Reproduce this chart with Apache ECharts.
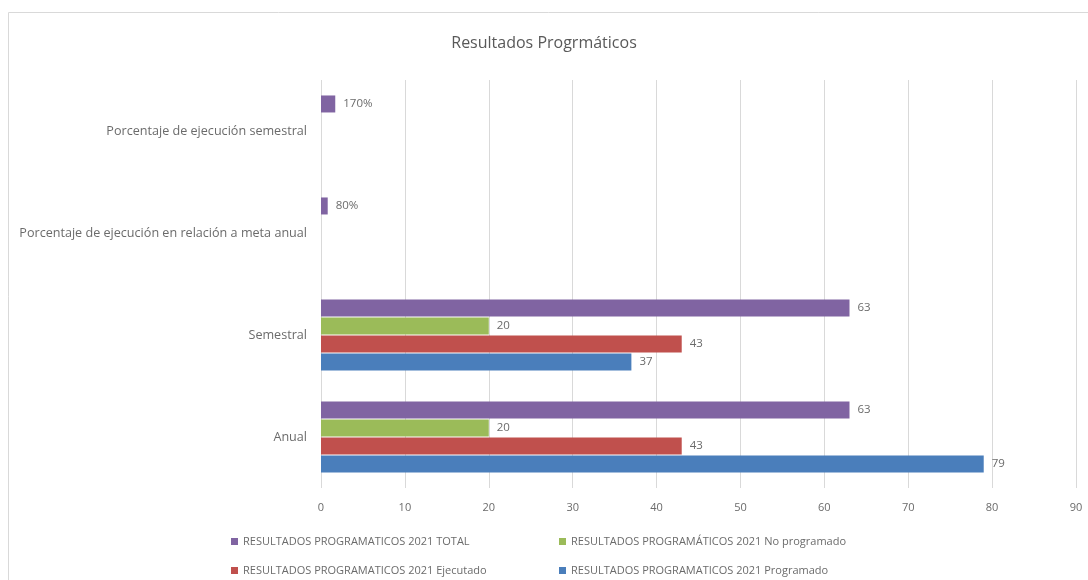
<!DOCTYPE html>
<html><head><meta charset="utf-8">
<script src="https://cdn.jsdelivr.net/npm/echarts@6/dist/echarts.min.js"></script>
<style>html,body{margin:0;padding:0;background:#fff}#c{width:1088px;height:580px}</style>
</head><body><div id="c"></div>
<script>
const categories = ['Anual', 'Semestral', 'Porcentaje de ejecución en relación a meta anual', 'Porcentaje de ejecución semestral'];
const seriesNames = ['RESULTADOS PROGRAMATICOS 2021 TOTAL', 'RESULTADOS PROGRAMÁTICOS 2021 No programado', 'RESULTADOS PROGRAMATICOS 2021 Ejecutado', 'RESULTADOS PROGRAMATICOS 2021 Programado'];
const total = [63, 63, 0.8, 1.7];
const noProgramado = [20, 20, null, null];
const ejecutado = [43, 43, null, null];
const programado = [79, 37, null, null];
const colors = ['#8064a2', '#9bbb59', '#c0504d', '#4a7ebb'];
const xTicks = [0, 10, 20, 30, 40, 50, 60, 70, 80, 90];

const font = '"Open Sans", "Liberation Sans", sans-serif';
const txt = '#6b6b6b';
const seriesData = [total, noProgramado, ejecutado, programado];

function fmt(p) {
  if (p.dataIndex >= 2) return Math.round(p.value * 100) + '%';
  return p.value;
}

const series = seriesNames.map((n, i) => ({
  name: n, type: 'bar', data: seriesData[i],
  barWidth: 17, barGap: '6%',
  itemStyle: { color: colors[i] },
  label: { show: true, position: 'right', distance: 8, color: txt, fontFamily: font, fontSize: 11.5, formatter: fmt }
}));

const legendPos = [
  { name: seriesNames[0], left: 226, top: 531 },
  { name: seriesNames[1], left: 554, top: 531 },
  { name: seriesNames[2], left: 226, top: 560 },
  { name: seriesNames[3], left: 554, top: 560 }
];

const chart = echarts.init(document.getElementById('c'));
chart.setOption({
  animation: false,
  title: { text: 'Resultados Progrmáticos', left: 'center', top: 30, textStyle: { color: '#595959', fontFamily: font, fontSize: 16, fontWeight: 'normal' } },
  grid: { left: 321, right: 12, top: 80, bottom: 92 },
  xAxis: {
    type: 'value', min: 0, max: xTicks[xTicks.length - 1], interval: 10,
    axisLine: { show: false }, axisTick: { show: false },
    splitLine: { lineStyle: { color: '#d9d9d9' } },
    axisLabel: { color: txt, fontFamily: font, fontSize: 11, margin: 14 }
  },
  yAxis: {
    type: 'category', data: categories,
    axisLine: { show: false }, axisTick: { show: false },
    axisLabel: { color: txt, fontFamily: font, fontSize: 12.6, margin: 14 }
  },
  legend: legendPos.map(l => ({
    data: [l.name], left: l.left, top: l.top, itemWidth: 7, itemHeight: 7, icon: 'rect', itemGap: 4,
    textStyle: { color: txt, fontFamily: font, fontSize: 11 }
  })),
  graphic: [{ type: 'rect', shape: { x: 8.5, y: 12.5, width: 1100, height: 600 }, style: { fill: 'none', stroke: '#d9d9d9', lineWidth: 1 }, silent: true }],
  series: series
});
</script></body></html>
